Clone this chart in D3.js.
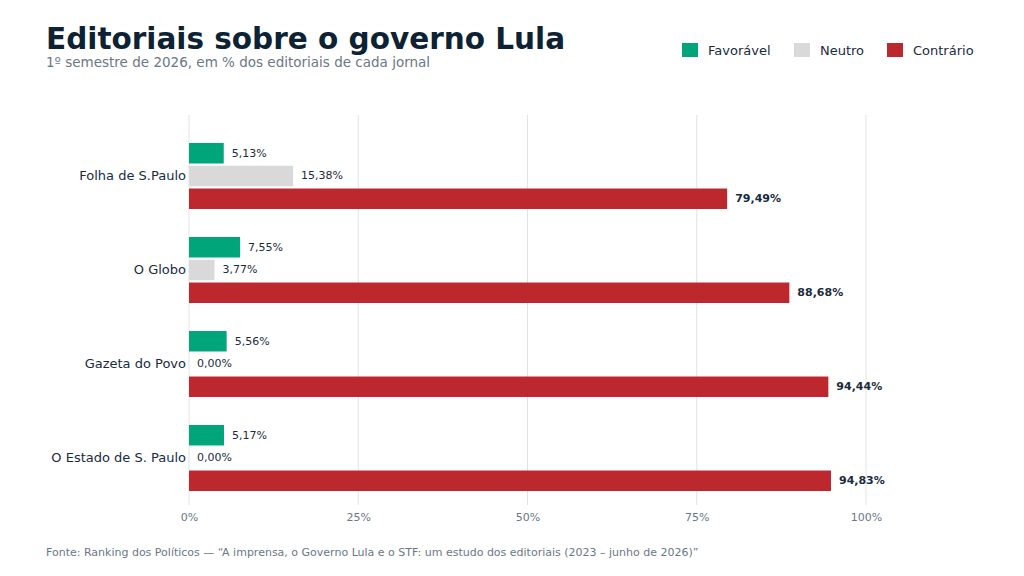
<!DOCTYPE html>
<html><head><meta charset="utf-8">
<script src="https://cdn.jsdelivr.net/npm/d3@7"></script>
<style>body{margin:0;background:#fff;font-family:"DejaVu Sans",sans-serif}</style>
</head><body><svg id="c" width="1024" height="576"></svg>
<script>
var jornais = ["Folha de S.Paulo", "O Globo", "Gazeta do Povo", "O Estado de S. Paulo"];
var favoravel = [5.13, 7.55, 5.56, 5.17];
var neutro = [15.38, 3.77, 0.00, 0.00];
var contrario = [79.49, 88.68, 94.44, 94.83];
var series = ["Favorável", "Neutro", "Contrário"];
var cores = ["#00a67a", "#d9d9d9", "#bd282e"];
var ticks = [0, 25, 50, 75, 100];

var svg = d3.select("#c");
var x = d3.scaleLinear().domain([0, 100]).range([189, 866]);
var y = d3.scaleBand().domain(jornais).range([129, 505]);
var sub = d3.scaleBand().domain(series).range([-33, 33]).paddingInner(0.1);
var fmt = function(v) { return v.toFixed(2).replace(".", ",") + "%"; };

// grid
svg.append("g").selectAll("line").data(ticks).enter().append("line")
  .attr("x1", function(d) { return x(d); }).attr("x2", function(d) { return x(d); })
  .attr("y1", 115).attr("y2", 505).attr("stroke", "#e2e2e2");
svg.append("g").attr("transform", "translate(0,505)")
  .call(d3.axisBottom(x).tickValues(ticks).tickSize(0).tickPadding(8).tickFormat(function(d) { return d + "%"; }))
  .call(function(g) { g.select(".domain").remove(); })
  .selectAll("text").attr("fill", "#6b7785").style("font-size", "11px").style("font-family", "DejaVu Sans");

// y labels
svg.append("g").attr("transform", "translate(186,0)")
  .call(d3.axisLeft(y).tickSize(0).tickPadding(0))
  .call(function(g) { g.select(".domain").remove(); })
  .selectAll("text").attr("fill", "#1a2b3c").style("font-size", "13px").style("font-family", "DejaVu Sans");

var vals = [favoravel, neutro, contrario];
series.forEach(function(s, i) {
  var data = jornais.map(function(j, k) { return {j: j, v: vals[i][k]}; });
  var g = svg.append("g");
  g.selectAll("rect").data(data).enter().append("rect")
    .attr("x", x(0)).attr("y", function(d) { return y(d.j) + y.bandwidth() / 2 + sub(s); })
    .attr("width", function(d) { return x(d.v) - x(0); }).attr("height", sub.bandwidth())
    .attr("fill", cores[i]);
  g.selectAll("text").data(data).enter().append("text")
    .attr("x", function(d) { return x(d.v) + 8; })
    .attr("y", function(d) { return y(d.j) + y.bandwidth() / 2 + sub(s) + sub.bandwidth() / 2; })
    .attr("dy", "0.3em").attr("fill", "#1a2b3c").style("font-size", "11px")
    .style("font-weight", i == 2 ? "bold" : "normal")
    .text(function(d) { return fmt(d.v); });
});

// titles
svg.append("text").attr("x", 46).attr("y", 49).attr("fill", "#0d2233")
  .style("font-size", "29.5px").style("font-weight", "bold").text("Editoriais sobre o governo Lula");
svg.append("text").attr("x", 46).attr("y", 67).attr("fill", "#6b7785")
  .style("font-size", "13.5px").text("1º semestre de 2026, em % dos editoriais de cada jornal");
svg.append("text").attr("x", 46).attr("y", 556).attr("fill", "#6b7785")
  .style("font-size", "11px").text("Fonte: Ranking dos Políticos — “A imprensa, o Governo Lula e o STF: um estudo dos editoriais (2023 – junho de 2026)”");

// legend
var lx = [682, 794, 887];
series.forEach(function(s, i) {
  svg.append("rect").attr("x", lx[i]).attr("y", 43).attr("width", 16).attr("height", 14).attr("fill", cores[i]);
  svg.append("text").attr("x", lx[i] + 26).attr("y", 50).attr("dy", "0.35em")
    .attr("fill", "#1a2b3c").style("font-size", "13px").text(s);
});
</script></body></html>
